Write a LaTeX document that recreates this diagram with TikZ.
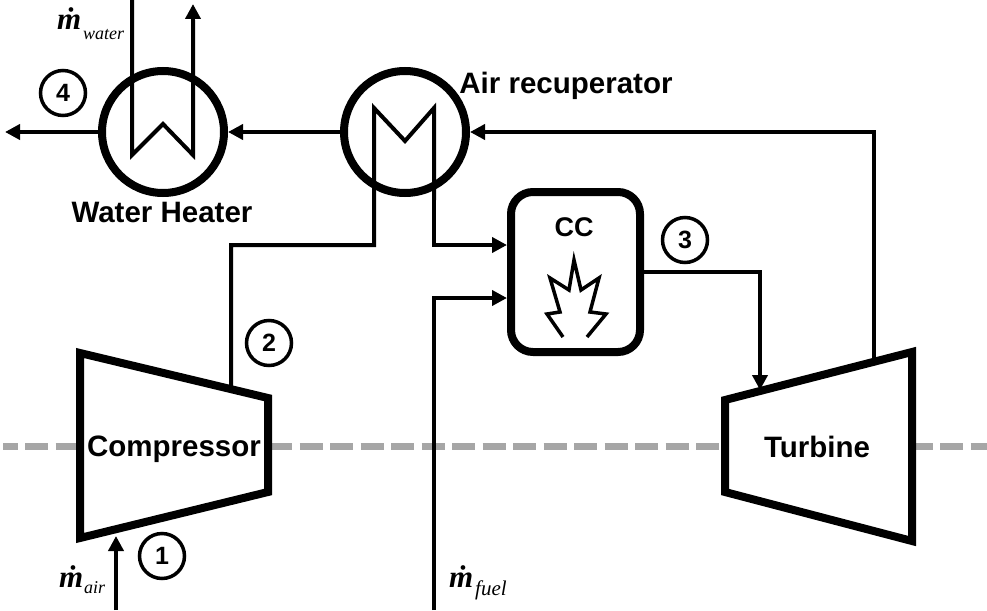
\documentclass[tikz,border=0pt]{standalone}
\usepackage{fontspec}
\setmainfont{Liberation Sans}
\newfontfamily\serifface{Liberation Serif}
\usetikzlibrary{arrows.meta}
\tikzset{
  heavy/.style={line width=8pt,draw=black,fill=white,line join=miter},
  exch/.style={circle,heavy,inner sep=0pt,minimum size=122pt},
  pipe/.style={line width=4pt,draw=black,line join=miter},
  flow/.style={pipe,-{Triangle[length=15pt,width=15pt]}},
  num/.style={circle,draw=black,line width=3.5pt,fill=white,inner sep=0pt,minimum size=45pt,font=\fontsize{25}{25}\selectfont\bfseries},
  lab/.style={inner sep=0pt,font=\fontsize{29.5}{29.5}\selectfont\bfseries},
  mdot/.style={inner sep=0pt,anchor=base west,font=\serifface\fontsize{31}{31}\selectfont\bfseries\itshape},
  msub/.style={inner sep=0pt,anchor=base west,font=\serifface\fontsize{18}{18}\selectfont\itshape},
}
\begin{document}
\begin{tikzpicture}[x=1pt,y=-1pt]
\useasboundingbox (0,0) rectangle (987,610);
% shaft
\draw[line width=7pt,draw=black!35,dash pattern=on 23pt off 7.5pt,dash phase=8.5pt] (3,446) -- (987,446);
% machines
\draw[heavy] (80,353) coordinate (c1) -- (268,398) coordinate (c2) -- (268,492) coordinate (c3) -- (80,538) coordinate (c4) -- cycle;
\draw[heavy] (725,400) coordinate (t1) -- (912,352) coordinate (t2) -- (912,541) coordinate (t3) -- (725,492) coordinate (t4) -- cycle;
\node[lab] (comp) at (174,449) {Compressor};
\node[lab] (turb) at (817,447) {Turbine};
% exchangers and combustor
\node[exch] (wh) at (163,132) {};
\node[exch] (rec) at (405,132) {};
\node[heavy,rounded corners=22pt,minimum width=129pt,minimum height=160pt,inner sep=0pt] (cc) at (575.5,272) {};
\node[lab,font=\fontsize{27}{27}\selectfont\bfseries] (cclab) at (574,227) {CC};
\draw[line width=3.5pt,line join=miter] (563,337) -- (547,314) -- (560,312) -- (550,278) -- (569,290) -- (574,260) -- (581,290) -- (599,278) -- (590,312) -- (606,314) -- (587,337);
% named free ends
\coordinate (wIn) at (132,0);
\coordinate (wOut) at (193,4);
\coordinate (ex) at (5,132);
\coordinate (airIn) at (116,610);
\coordinate (airTip) at (116,536);
\coordinate (fuelIn) at (434,610);
\coordinate (compOut) at (231,389);
\coordinate (turbIn) at (760,390);
\coordinate (turbOut) at (874,362);
% water coil
\draw[pipe] (wIn) -- (132,155) -- (163,124) -- (193,155) -- (193,20);
\draw[flow] (193,60) -- (wOut);
% recuperator coil and air lines
\draw[pipe] (compOut) -- (231,245) -- (374,245) -- (374,108) -- (405,141) -- (434,108) -- (434,200);
\draw[flow] (434,190) -- (434,245) -- (cc.west |- 0,245);
\draw[flow] (fuelIn) -- (434,298) -- (cc.west |- 0,298);
\draw[flow] (cc.east |- 0,272) -- (760,272) -- (turbIn);
\draw[flow] (turbOut) -- (874,132) -- (rec.east);
\draw[flow] (rec.west) -- (wh.east);
\draw[flow] (wh.west) -- (ex);
\draw[flow] (airIn) -- (airTip);
% labels
\node[lab] (whlab) at (162,212) {Water Heater};
\node[lab] (reclab) at (566,86) {Air recuperator};
\node[num] (n1) at (162,556) {1};
\node[num] (n2) at (269,343) {2};
\node[num] (n3) at (685,240) {3};
\node[num] (n4) at (63,93) {4};
\node[mdot] (mw) at (57,30) {\.{m}};
\node[msub] (mws) at (83,40) {water};
\node[mdot] (ma) at (59,587) {\.{m}};
\node[msub] (mas) at (84,593) {air};
\node[mdot] (mf) at (449,587) {\.{m}};
\node[msub,font=\serifface\fontsize{21}{21}\selectfont\itshape] (mfs) at (475,595) {fuel};
\end{tikzpicture}
\end{document}
